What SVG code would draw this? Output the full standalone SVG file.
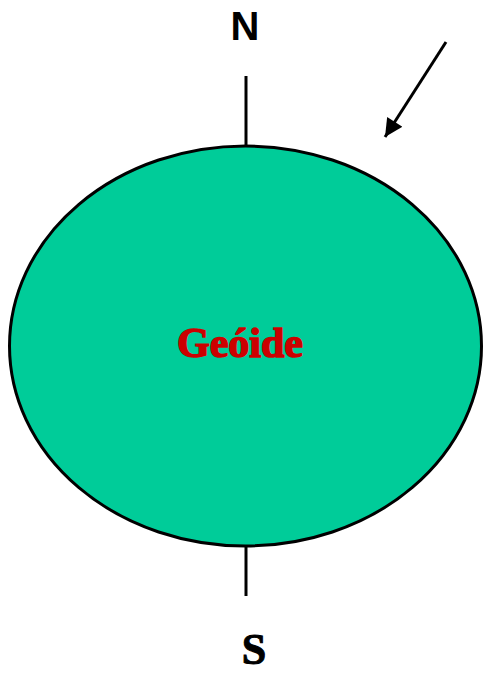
<svg xmlns="http://www.w3.org/2000/svg" width="483" height="675" viewBox="0 0 483 675">
<style>
.ln{stroke:#000;stroke-width:3;fill:none}
</style>
<defs>
<marker id="ah2" viewBox="0 0 10 10" refX="10" refY="5" markerWidth="20" markerHeight="18" markerUnits="userSpaceOnUse" orient="auto">
<path d="M0,0 L10,5 L0,10 Z" fill="#000"/>
</marker>
</defs>
<g id="connectors">
<line class="ln" x1="246" y1="76" x2="246" y2="146"/>
<line class="ln" x1="246" y1="546" x2="246" y2="596"/>
<line class="ln" x1="446" y1="42" x2="385" y2="137" marker-end="url(#ah2)"/>
</g>
<g id="geoide">
<ellipse cx="245.5" cy="346" rx="236" ry="200" fill="#00CC99" stroke="#000" stroke-width="3"/>
<text x="240" y="357" text-anchor="middle" font-family="Liberation Serif, serif" font-weight="bold" font-size="42" fill="#CC0000" stroke="#CC0000" stroke-width="1.5">Geóide</text>
</g>
<g id="north">
<text x="245" y="40" text-anchor="middle" font-family="Liberation Sans, Arial, sans-serif" font-weight="bold" font-size="40" fill="#000">N</text>
</g>
<g id="south">
<text x="254" y="664" text-anchor="middle" font-family="Liberation Serif, serif" font-weight="bold" font-size="44" fill="#000" stroke="#000" stroke-width="1">S</text>
</g>
</svg>
